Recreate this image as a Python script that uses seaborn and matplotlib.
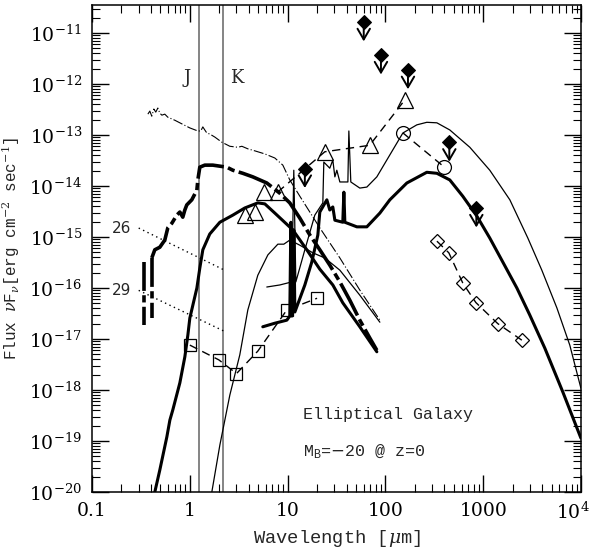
import numpy as np
import matplotlib
matplotlib.use("Agg")
import matplotlib.pyplot as plt
import matplotlib.transforms as mtransforms
import seaborn as sns

# ---------------- data (log10 wavelength [um], log10 nuF_nu) ----------------
# thin dash-dot template (upper optical/NIR)
a_lwl = [-0.429, -0.409, -0.389, -0.368, -0.348, -0.327, -0.307, -0.286, -0.256, -0.225,
         -0.153, -0.082, 0.0, 0.082, 0.112, 0.133, 0.153, 0.174, 0.204, 0.256, 0.327,
         0.409, 0.491, 0.532, 0.593, 0.665, 0.767, 0.869, 0.951, 1.022, 1.125, 1.329,
         1.534, 1.738, 1.943]
a_lf = [-12.59, -12.53, -12.63, -12.49, -12.55, -12.47, -12.57, -12.61, -12.59, -12.65,
        -12.71, -12.78, -12.86, -12.92, -12.92, -12.84, -12.90, -12.96, -12.98, -13.04,
        -13.14, -13.22, -13.24, -13.22, -13.27, -13.31, -13.37, -13.45, -13.59, -13.88,
        -14.20, -14.82, -15.41, -16.04, -16.63]

# thick dash-dot template
b_lwl = [-0.389, -0.358, -0.307, -0.256, -0.225, -0.184, -0.133, -0.102, -0.072, -0.051,
         -0.031, 0.020, 0.072, 0.082, 0.102, 0.153, 0.235, 0.378, 0.440, 0.542, 0.644,
         0.787, 0.920, 1.022, 1.125, 1.227, 1.329, 1.431, 1.534, 1.636, 1.738, 1.840, 1.912]
b_lf = [-15.41, -15.25, -15.20, -15.06, -14.82, -14.73, -14.57, -14.51, -14.61, -14.47,
        -14.37, -14.27, -14.08, -13.88, -13.63, -13.59, -13.59, -13.63, -13.69, -13.75,
        -13.82, -13.94, -14.14, -14.33, -14.63, -14.96, -15.25, -15.55, -15.88, -16.24,
        -16.63, -16.98, -17.22]
# UV stubs of the thick dash-dot template
b_stub_lwl = [-0.470, -0.389]
b_stub_top = [-15.49, -15.41]
b_stub_bot = [-16.73, -16.59]

# thick solid: stellar part
c_lwl = [-0.358, -0.307, -0.235, -0.204, -0.174, -0.102, -0.051, -0.020, 0.0, 0.072,
         0.102, 0.133, 0.204, 0.307, 0.440, 0.562, 0.695, 0.767, 0.869, 1.053, 1.196,
         1.329, 1.462, 1.564, 1.738, 1.912]
c_lf = [-20.00, -19.57, -18.92, -18.59, -18.39, -17.86, -17.35, -16.92, -16.59, -16.00,
        -15.61, -15.25, -14.94, -14.71, -14.57, -14.43, -14.33, -14.35, -14.53, -14.86,
        -15.25, -15.63, -15.94, -16.29, -16.76, -17.25]

# thin solid: stellar part
d_lwl = [0.225, 0.307, 0.409, 0.511, 0.593, 0.695, 0.798, 0.900, 0.961, 1.022, 1.125,
         1.258, 1.380, 1.534, 1.738, 1.943]
d_lf = [-20.00, -19.08, -18.10, -17.31, -16.43, -15.75, -15.35, -15.14, -15.14, -15.06,
        -15.16, -15.31, -15.41, -15.65, -16.14, -16.67]

# thick solid: dust part
e_lwl = [0.746, 0.869, 0.992, 1.022, 1.033, 1.043, 1.063, 1.074, 1.176, 1.247, 1.309,
         1.329, 1.401, 1.431, 1.462, 1.483, 1.564, 1.575, 1.585, 1.708, 1.810, 1.943,
         2.045, 2.219, 2.423, 2.526, 2.658, 2.791, 2.935, 3.067, 3.200, 3.344, 3.476,
         3.630, 3.814, 3.998]
e_lf = [-16.76, -16.69, -16.63, -16.55, -14.71, -16.55, -14.86, -16.47, -15.94, -15.49,
        -14.96, -14.51, -14.27, -14.47, -14.41, -14.67, -14.71, -14.12, -14.71, -14.80,
        -14.80, -14.53, -14.27, -13.94, -13.73, -13.75, -13.88, -14.20, -14.59, -15.02,
        -15.49, -16.00, -16.53, -17.18, -18.04, -18.94]

# thin solid: dust part
f_lwl = [0.787, 0.920, 1.043, 1.063, 1.084, 1.176, 1.278, 1.360, 1.370, 1.431, 1.462,
         1.483, 1.503, 1.534, 1.616, 1.626, 1.646, 1.738, 1.810, 1.912, 2.014, 2.178,
         2.321, 2.423, 2.526, 2.658, 2.863, 3.067, 3.272, 3.456, 3.599, 3.753, 3.885, 3.998]
f_lf = [-15.98, -15.94, -15.88, -13.69, -15.88, -15.25, -14.57, -14.33, -13.53, -13.65,
        -13.49, -13.82, -13.69, -13.92, -13.92, -12.92, -13.92, -14.04, -14.02, -13.82,
        -13.49, -12.96, -12.80, -12.75, -12.76, -12.90, -13.24, -13.69, -14.27, -15.02,
        -15.65, -16.39, -17.12, -17.96]

# dotted surface-brightness lines (labels 26 and 29)
sb_labels = ["26", "29"]
sb_wl = [0.30, 2.2]
sb26_flux = [1.5e-15, 2.3e-16]
sb29_flux = [9.0e-17, 1.45e-17]

# observed points
tri_free_wl = [3.65, 4.6, 5.8]
tri_free_flux = [2.7e-15, 3.1e-15, 7.6e-15]
tri_wl = [7.9, 24, 69, 158]
tri_flux = [7.6e-15, 4.7e-14, 6.3e-14, 4.9e-13]
circ_wl = [151, 395]
circ_flux = [1.1e-13, 2.4e-14]
sq_wl = [1.0, 1.98, 3.0, 4.96, 9.8, 20]
sq_flux = [7.6e-18, 3.9e-18, 2.1e-18, 5.8e-18, 3.7e-17, 6.3e-17]
dia_wl = [336, 445, 617, 840, 1410, 2480]
dia_flux = [8.3e-16, 4.9e-16, 1.26e-16, 5.2e-17, 2.0e-17, 9.5e-18]
ul_wl = [15, 60, 90, 170, 450, 850]
ul_flux = [2.2e-14, 1.65e-11, 3.7e-12, 1.9e-12, 7.2e-14, 3.7e-15]

band_names = ["J", "K"]
band_wl = [1.25, 2.2]

x_ticks = [0.1, 1, 10, 100, 1000, 1e4]
x_ticklabels = ["0.1", "1", "10", "100", "1000", r"10$^4$"]

# ---------------- plotting ----------------
sns.set_theme(style="ticks")
plt.rcParams["font.family"] = ["DejaVu Serif"]
plt.rcParams["mathtext.fontset"] = "dejavuserif"

fig = plt.figure(figsize=(5.96, 5.52), dpi=100)
ax = fig.add_axes([0.1544, 0.1087, 0.8205, 0.8822])
ax.set_xscale("log")
ax.set_yscale("log")

p = lambda v: 10 ** np.asarray(v, dtype=float)
K = "black"

def line(x, y, **kw):
    sns.lineplot(x=x, y=y, ax=ax, sort=False, estimator=None, legend=False, **kw)

# band lines
for wl in band_wl:
    ax.axvline(wl, color="#707070", lw=1.2, zorder=1)
band_label_x = [0.93, 3.0]
for name, xl in zip(band_names, band_label_x):
    ax.text(xl, 10 ** -11.88, name, ha="center", va="center", fontsize=13)

# dotted lines
line(sb_wl, sb26_flux, color=K, lw=1.0, linestyle=(0, (1, 2.5)))
line(sb_wl, sb29_flux, color=K, lw=1.0, linestyle=(0, (1, 2.5)))
for lab, fl in zip(sb_labels, [sb26_flux[0], sb29_flux[0]]):
    ax.text(0.2, fl, lab, ha="center", va="center", fontsize=11,
            family="DejaVu Sans")

# SED curves
line(p(a_lwl), p(a_lf), color=K, lw=0.8, linestyle=(0, (9, 2, 1, 2)))
line(p(b_lwl), p(b_lf), color=K, lw=2.6, linestyle=(0, (10, 1.2, 2, 1.2)))
for xw, t, b in zip(b_stub_lwl, b_stub_top, b_stub_bot):
    line(p([xw, xw]), p([t, b]), color=K, lw=2.6, linestyle=(0, (8, 1.2, 2, 1.2)))
line(p(c_lwl), p(c_lf), color=K, lw=2.2)
line(p(d_lwl), p(d_lf), color=K, lw=0.9)
line(p(e_lwl), p(e_lf), color=K, lw=2.2)
line(p(f_lwl), p(f_lf), color=K, lw=0.9)

# data points
dash = (0, (6, 4))
line(tri_wl, tri_flux, color=K, lw=1.0, linestyle=dash, marker="^", markersize=11,
     markerfacecolor="none", markeredgecolor=K, markeredgewidth=0.9)
line(tri_free_wl, tri_free_flux, color=K, lw=0, linestyle="none", marker="^",
     markersize=11, markerfacecolor="none", markeredgecolor=K, markeredgewidth=0.9)
line(circ_wl, circ_flux, color=K, lw=1.0, linestyle=dash, marker="o", markersize=10,
     markerfacecolor="none", markeredgecolor=K, markeredgewidth=0.9)
line(sq_wl, sq_flux, color=K, lw=1.0, linestyle=dash, marker="s", markersize=8.5,
     markerfacecolor="none", markeredgecolor=K, markeredgewidth=0.9)
line(dia_wl, dia_flux, color=K, lw=1.0, linestyle=dash, marker="D", markersize=7.5,
     markerfacecolor="none", markeredgecolor=K, markeredgewidth=0.9)
line(ul_wl, ul_flux, color=K, lw=0, linestyle="none", marker="D", markersize=7.5,
     markerfacecolor=K, markeredgecolor=K)
for xw, fl in zip(ul_wl, ul_flux):
    ax.annotate("", xy=(xw, fl / 2.4), xytext=(xw, fl),
                arrowprops=dict(arrowstyle="->,head_length=0.55,head_width=0.32",
                                color=K, lw=1.4, shrinkA=0, shrinkB=0,
                                mutation_scale=14))

# texts
ax.text(14.3, 10 ** -18.49, "Elliptical Galaxy", fontsize=12, family="Liberation Mono",
        ha="left", va="center")
ax.text(14.3, 10 ** -19.22, r"M$_{\mathregular{B}}$=$-$20 @ z=0", fontsize=12,
        family="Liberation Mono", ha="left", va="center")

# axes
ax.set_xlim(0.1, 1e4)
ax.set_ylim(1e-20, 10 ** -10.45)
ax.set_xticks(x_ticks)
ax.set_xticklabels(x_ticklabels)
ax.set_yticks([10.0 ** k for k in range(-20, -10)])
ax.yaxis.set_major_formatter(matplotlib.ticker.LogFormatterMathtext())
ax.xaxis.set_minor_locator(matplotlib.ticker.LogLocator(base=10, subs=np.arange(2, 10), numticks=20))
ax.yaxis.set_minor_locator(matplotlib.ticker.LogLocator(base=10, subs=np.arange(2, 10), numticks=30))
ax.xaxis.set_minor_formatter(matplotlib.ticker.NullFormatter())
ax.yaxis.set_minor_formatter(matplotlib.ticker.NullFormatter())
ax.tick_params(which="both", direction="in", top=True, right=True, colors=K,
               labelsize=13.5)
ax.tick_params(which="major", length=12, width=1.0, pad=7)
ax.tick_params(which="minor", length=6, width=0.8)
for s in ax.spines.values():
    s.set_linewidth(1.1)
    s.set_color(K)

last = ax.get_xticklabels()[-1]
last.set_transform(last.get_transform() +
                   mtransforms.ScaledTranslation(-6 / 72, 0, fig.dpi_scale_trans))

ax.set_xlabel(r"Wavelength [$\mu$m]", family="Liberation Mono", fontsize=13.5, labelpad=4)
ax.set_ylabel(r"Flux $\nu$F$_\nu$[erg cm$^{-2}$ sec$^{-1}$]", family="Liberation Mono",
              fontsize=11.5, labelpad=5)

fig.savefig("out.png", dpi=100)
